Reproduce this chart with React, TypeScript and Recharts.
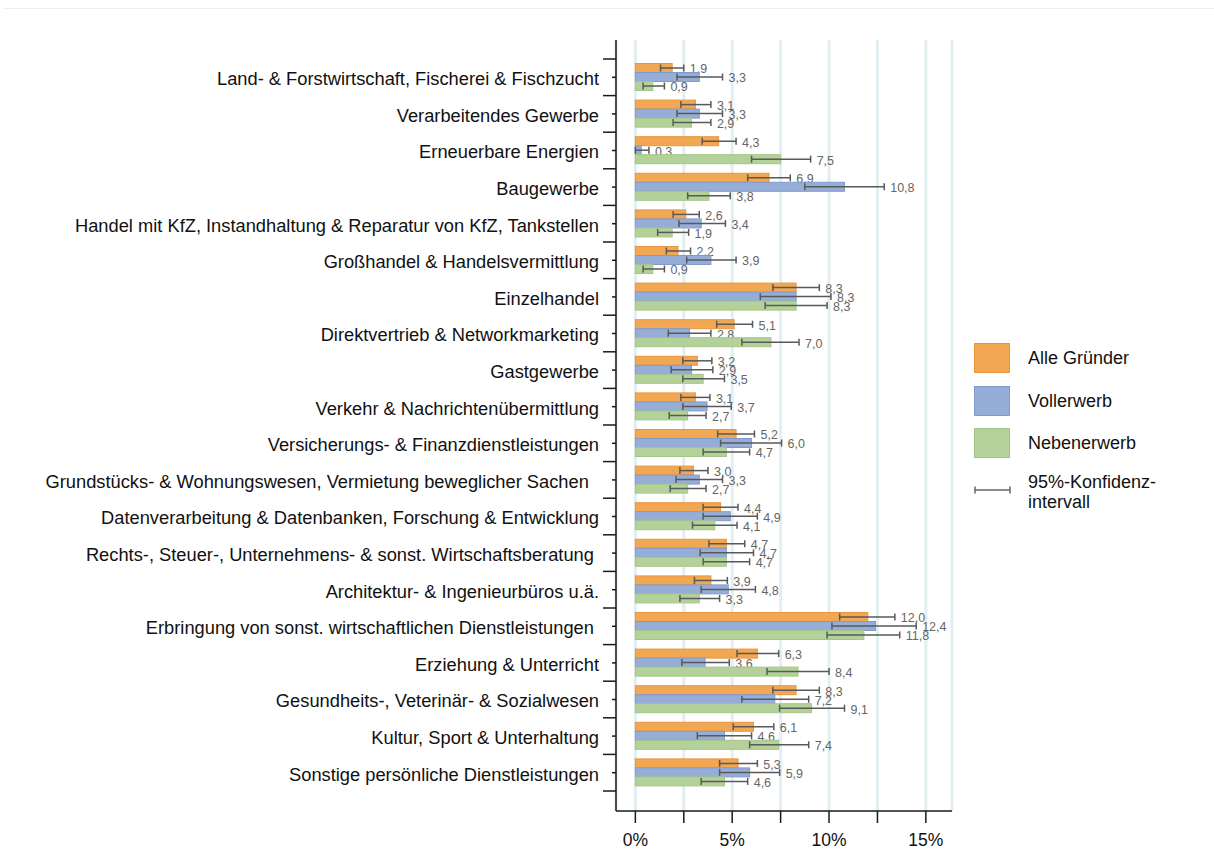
import React from 'react';
import { BarChart, Bar, XAxis, YAxis, CartesianGrid, ErrorBar, Legend } from 'recharts';

const categories = [
  'Land- & Forstwirtschaft, Fischerei & Fischzucht',
  'Verarbeitendes Gewerbe',
  'Erneuerbare Energien',
  'Baugewerbe',
  'Handel mit KfZ, Instandhaltung & Reparatur von KfZ, Tankstellen',
  'Großhandel & Handelsvermittlung',
  'Einzelhandel',
  'Direktvertrieb & Networkmarketing',
  'Gastgewerbe',
  'Verkehr & Nachrichtenübermittlung',
  'Versicherungs- & Finanzdienstleistungen',
  'Grundstücks- & Wohnungswesen, Vermietung beweglicher Sachen  ',
  'Datenverarbeitung & Datenbanken, Forschung & Entwicklung',
  'Rechts-, Steuer-, Unternehmens- & sonst. Wirtschaftsberatung ',
  'Architektur- & Ingenieurbüros u.ä.',
  'Erbringung von sonst. wirtschaftlichen Dienstleistungen ',
  'Erziehung & Unterricht',
  'Gesundheits-, Veterinär- & Sozialwesen',
  'Kultur, Sport & Unterhaltung',
  'Sonstige persönliche Dienstleistungen',
];

const alle = [1.9, 3.1, 4.3, 6.9, 2.6, 2.2, 8.3, 5.1, 3.2, 3.1, 5.2, 3.0, 4.4, 4.7, 3.9, 12.0, 6.3, 8.3, 6.1, 5.3];
const alleLo = [1.3, 2.35, 3.45, 5.8, 1.95, 1.6, 7.1, 4.2, 2.45, 2.35, 4.25, 2.3, 3.5, 3.8, 3.05, 10.55, 5.25, 7.1, 5.05, 4.35];
const alleHi = [2.5, 3.9, 5.2, 8.0, 3.3, 2.85, 9.5, 6.05, 3.95, 3.85, 6.15, 3.75, 5.3, 5.65, 4.75, 13.4, 7.4, 9.5, 7.15, 6.3];

const voll = [3.3, 3.3, 0.3, 10.8, 3.4, 3.9, 8.3, 2.8, 2.9, 3.7, 6.0, 3.3, 4.9, 4.7, 4.8, 12.4, 3.6, 7.2, 4.6, 5.9];
const vollLo = [2.15, 2.15, 0.0, 8.75, 2.25, 2.65, 6.45, 1.7, 1.85, 2.45, 4.4, 2.1, 3.5, 3.35, 3.4, 10.15, 2.4, 5.5, 3.2, 4.35];
const vollHi = [4.5, 4.5, 0.7, 12.85, 4.65, 5.2, 10.1, 3.9, 4.0, 4.95, 7.55, 4.5, 6.3, 6.1, 6.2, 14.5, 4.85, 8.95, 6.0, 7.45];

const neben = [0.9, 2.9, 7.5, 3.8, 1.9, 0.9, 8.3, 7.0, 3.5, 2.7, 4.7, 2.7, 4.1, 4.7, 3.3, 11.8, 8.4, 9.1, 7.4, 4.6];
const nebenLo = [0.4, 1.95, 6.0, 2.7, 1.15, 0.4, 6.7, 5.5, 2.45, 1.75, 3.5, 1.8, 2.95, 3.5, 2.3, 9.9, 6.8, 7.45, 5.9, 3.4];
const nebenHi = [1.5, 3.9, 9.05, 4.9, 2.75, 1.5, 9.9, 8.45, 4.6, 3.65, 5.9, 3.65, 5.25, 5.9, 4.35, 13.65, 10.0, 10.8, 8.95, 5.8];

const xTicks = [0, 2.5, 5, 7.5, 10, 12.5, 15];
const xDomain = [-1, 16.35];

const seriesNames = ['Alle Gründer', 'Vollerwerb', 'Nebenerwerb'];
const ciLegendLines = ['95%-Konfidenz-', 'intervall'];

const series = [
  { key: 'alle', name: seriesNames[0], fill: '#F2A752', stroke: '#E9953D' },
  { key: 'voll', name: seriesNames[1], fill: '#96AED7', stroke: '#7F9BCC' },
  { key: 'neben', name: seriesNames[2], fill: '#B4D19A', stroke: '#A3C588' },
];

const data = categories.map((name, i) => ({
  name,
  alle: alle[i],
  alleHi: alleHi[i],
  alleErr: [alle[i] - alleLo[i], alleHi[i] - alle[i]],
  voll: voll[i],
  vollHi: vollHi[i],
  vollErr: [voll[i] - vollLo[i], vollHi[i] - voll[i]],
  neben: neben[i],
  nebenHi: nebenHi[i],
  nebenErr: [neben[i] - nebenLo[i], nebenHi[i] - neben[i]],
}));

const FONT = '"Liberation Sans", Arial, Helvetica, sans-serif';
const AXIS_COLOR = '#1a1a1a';
const W = 1200;
const H = 840;
const MARGIN = { top: 31, right: 256, bottom: 0, left: 0 };
const Y_AXIS_W = 608;
const X_AXIS_H = 38;
const PAD_TOP = 19;
const PAD_BOTTOM = 20;
const HALF_BAND = (H - MARGIN.top - MARGIN.bottom - X_AXIS_H - PAD_TOP - PAD_BOTTOM) / categories.length / 2;

const fmt = (v: number) => v.toFixed(1).replace('.', ',');

const CategoryTick = (props: any) => {
  const { x, y, payload, index } = props;
  const isLast = index === categories.length - 1 || payload?.value === categories[categories.length - 1];
  return (
    <g>
      <line x1={x - 4} y1={y} x2={x} y2={y} stroke={AXIS_COLOR} strokeWidth={1.5} />
      <line x1={x - 13} y1={y - HALF_BAND} x2={x} y2={y - HALF_BAND} stroke={AXIS_COLOR} strokeWidth={1.5} />
      {isLast && (
        <line x1={x - 13} y1={y + HALF_BAND} x2={x} y2={y + HALF_BAND} stroke={AXIS_COLOR} strokeWidth={1.5} />
      )}
      <text
        x={x - 17}
        y={y + 1.5}
        dy="0.35em"
        textAnchor="end"
        fontSize={18.3}
        fill="#111"
        fontFamily={FONT}
        style={{ whiteSpace: 'pre' }}
      >
        {payload.value}
      </text>
    </g>
  );
};

const makeShape = (key: string, fill: string, stroke: string) => (props: any) => {
  const { x, y, width, height, payload } = props;
  const v = payload[key];
  const hi = payload[key + 'Hi'];
  const xHi = v > 0 ? x + (width * hi) / v : x;
  return (
    <g>
      <rect x={x} y={y} width={Math.max(width, 0)} height={height} fill={fill} stroke={stroke} strokeWidth={1} />
      <text
        x={xHi + 6}
        y={y + height / 2 + 1}
        dy="0.35em"
        fontSize={12.5}
        fill="#666666"
        fontFamily={FONT}
      >
        {fmt(v)}
      </text>
    </g>
  );
};

const renderLegend = () => (
  <div style={{ position: 'relative', width: 230, height: 180, fontFamily: FONT, fontSize: 18, color: '#111' }}>
    {series.map((s, i) => (
      <div key={s.key} style={{ position: 'absolute', left: 0, top: i * 42.5, height: 30, width: 230 }}>
        <div
          style={{
            position: 'absolute',
            left: 0,
            top: 0,
            width: 34,
            height: 28,
            background: s.fill,
            border: `1px solid ${s.stroke}`,
          }}
        />
        <div style={{ position: 'absolute', left: 54, top: 0, height: 30, lineHeight: '30px', whiteSpace: 'nowrap' }}>
          {s.name}
        </div>
      </div>
    ))}
    <svg style={{ position: 'absolute', left: 0, top: 141 }} width={38} height={12}>
      <line x1={1} y1={6} x2={36} y2={6} stroke="#666" strokeWidth={1.5} />
      <line x1={1} y1={2.5} x2={1} y2={9.5} stroke="#666" strokeWidth={1.5} />
      <line x1={36} y1={2.5} x2={36} y2={9.5} stroke="#666" strokeWidth={1.5} />
    </svg>
    <div style={{ position: 'absolute', left: 54, top: 129, lineHeight: '20px', whiteSpace: 'nowrap' }}>
      {ciLegendLines.map((l) => (
        <div key={l}>{l}</div>
      ))}
    </div>
  </div>
);

export default function App() {
  return (
    <div style={{ position: 'absolute', left: 4, top: 8, width: 1210, borderTop: '1px solid #eeeeee' }}>
      <div style={{ marginLeft: 4 }}>
        <BarChart
          width={W}
          height={H}
          data={data}
          layout="vertical"
          margin={MARGIN}
          barCategoryGap={4.5}
          barGap={0}
          style={{ fontFamily: FONT }}
        >
          <CartesianGrid horizontal={false} vertical stroke="#e3eef1" strokeWidth={3} />
          <XAxis
            type="number"
            domain={xDomain}
            allowDataOverflow
            ticks={xTicks}
            interval={0}
            height={X_AXIS_H}
            tickSize={12}
            tickMargin={11}
            axisLine={{ stroke: AXIS_COLOR, strokeWidth: 1.5 }}
            tickLine={{ stroke: AXIS_COLOR, strokeWidth: 1.5 }}
            tick={{ fontSize: 17.5, fill: '#111', fontFamily: FONT }}
            tickFormatter={(v: number) => (v % 5 === 0 ? `${v}%` : '')}
          />
          <YAxis
            type="category"
            dataKey="name"
            width={Y_AXIS_W}
            interval={0}
            padding={{ top: PAD_TOP, bottom: PAD_BOTTOM }}
            tickSize={0}
            tickMargin={0}
            tickLine={false}
            axisLine={{ stroke: AXIS_COLOR, strokeWidth: 1.5 }}
            tick={<CategoryTick />}
          />
          <Legend
            content={renderLegend}
            layout="vertical"
            verticalAlign="middle"
            align="center"
            wrapperStyle={{ position: 'absolute', left: 966, top: 334, width: 230 }}
          />
          {series.map((s) => (
            <Bar
              key={s.key}
              dataKey={s.key}
              name={s.name}
              fill={s.fill}
              stroke={s.stroke}
              isAnimationActive={false}
              shape={makeShape(s.key, s.fill, s.stroke)}
            >
              <ErrorBar
                dataKey={s.key + 'Err'}
                direction="x"
                width={3.5}
                stroke="#595959"
                strokeWidth={1.5}
                isAnimationActive={false}
              />
            </Bar>
          ))}
        </BarChart>
      </div>
    </div>
  );
}
